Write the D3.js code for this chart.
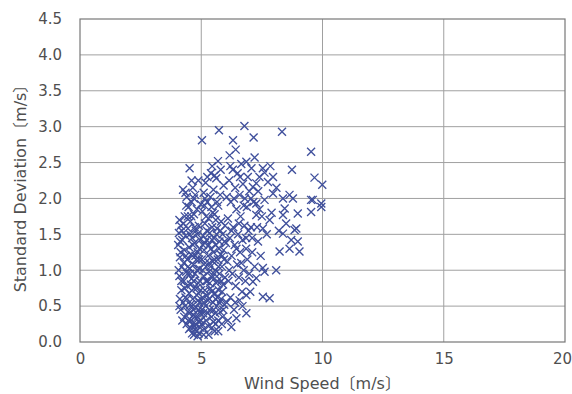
<!DOCTYPE html>
<html><head><meta charset="utf-8">
<script src="https://cdn.jsdelivr.net/npm/d3@7"></script>
<style>body{margin:0;background:#fff}</style>
</head><body><svg id="c" width="572" height="394"></svg>
<script>
const xTicks = [0, 5, 10, 15, 20];
const yTicks = [0, 0.5, 1, 1.5, 2, 2.5, 3, 3.5, 4, 4.5];
const xLabel = "Wind Speed〔m/s〕";
const yLabel = "Standard Deviation〔m/s〕";

// [wind speed, standard deviation]
const band4 = [[4.05,1.35],[4.08,1.52],[4.1,0.92],[4.12,1.18],[4.15,0.45],[4.15,1.62],[4.18,0.72],[4.2,1.05],[4.22,1.42],[4.25,0.55],[4.25,2.12],[4.28,0.85],[4.3,1.28],[4.3,0.35],[4.32,1.75],[4.35,0.62],[4.35,1.48],[4.38,0.98],[4.4,0.25],[4.4,2.02],[4.42,1.15],[4.42,0.78],[4.45,1.58],[4.45,0.42],[4.48,1.88],[4.5,0.18],[4.5,1.32],[4.5,0.68],[4.52,2.42],[4.52,1.02],[4.55,0.52],[4.55,1.68],[4.58,0.3],[4.58,1.22],[4.6,0.88],[4.6,1.95],[4.62,0.12],[4.62,1.45],[4.65,0.6],[4.65,2.15],[4.68,1.08],[4.68,0.38],[4.7,1.78],[4.7,0.75],[4.72,0.22],[4.72,1.38],[4.75,0.95],[4.75,2.05],[4.78,0.48],[4.78,1.55],[4.8,0.15],[4.8,1.15],[4.82,0.65],[4.82,1.85],[4.85,0.35],[4.85,1.25],[4.88,0.82],[4.88,2.25],[4.9,0.28],[4.9,1.62],[4.92,1.02],[4.92,0.55],[4.95,1.42],[4.95,0.2],[4.98,1.92],[4.98,0.72],[4.1,1.7],[4.12,0.6],[4.2,1.55],[4.28,1.1],[4.33,0.5],[4.38,1.9],[4.43,0.95],[4.47,0.3],[4.53,1.5],[4.57,0.8],[4.63,1.2],[4.67,0.45],[4.73,1.6],[4.77,0.25],[4.83,1.0],[4.87,0.58],[4.93,1.3],[4.97,0.4],[4.6,2.25],[4.35,2.08],[4.15,1.25],[4.85,0.08],[4.7,0.1],
  [4.07,1.0],[4.1,0.5],[4.13,1.4],[4.18,0.85],[4.22,0.3],[4.27,1.65],[4.32,0.75],[4.37,1.2],[4.41,0.6],[4.46,1.05],[4.51,0.4],[4.54,0.95],[4.59,1.75],[4.61,0.5],[4.66,1.35],[4.69,0.85],[4.74,0.35],[4.76,1.2],[4.81,0.75],[4.84,1.5],[4.89,0.45],[4.91,1.15],[4.94,0.85],[4.99,0.3],[4.55,0.2],[4.65,0.25],[4.75,0.18],[4.9,0.12],[4.45,1.75],[4.7,2.0]];
const band5 = [[5.02,0.25],[5.02,1.15],[5.05,0.62],[5.05,1.82],[5.08,0.4],[5.08,1.48],[5.1,0.92],[5.1,2.08],[5.12,0.18],[5.12,1.28],[5.15,0.72],[5.15,1.65],[5.18,0.5],[5.18,2.22],[5.2,1.05],[5.2,0.3],[5.22,1.42],[5.25,0.85],[5.25,1.95],[5.28,0.58],[5.28,1.2],[5.3,0.22],[5.3,1.72],[5.32,0.98],[5.35,0.45],[5.35,1.52],[5.38,2.02],[5.38,0.75],[5.4,1.3],[5.42,0.35],[5.42,1.88],[5.45,0.9],[5.45,1.6],[5.48,0.55],[5.48,1.12],[5.5,0.28],[5.5,2.12],[5.52,1.45],[5.55,0.68],[5.55,1.78],[5.58,1.0],[5.58,0.4],[5.6,1.35],[5.62,0.82],[5.62,2.28],[5.65,0.5],[5.65,1.58],[5.68,1.15],[5.7,0.3],[5.7,1.9],[5.72,0.72],[5.75,1.4],[5.75,0.95],[5.78,0.42],[5.78,2.05],[5.8,1.22],[5.82,0.6],[5.82,1.68],[5.85,1.05],[5.88,0.35],[5.88,1.5],[5.9,0.8],[5.92,2.18],[5.92,1.28],[5.95,0.52],[5.98,1.62],[5.98,0.9],[5.06,1.0],[5.14,1.9],[5.22,0.65],[5.33,1.1],[5.44,0.2],[5.53,0.95],[5.6,1.7],[5.67,0.62],[5.73,1.3],[5.86,0.7],[5.94,1.15],[5.25,2.3],[5.4,2.35],[5.15,1.38],[5.35,0.82],[5.5,1.25],[5.7,0.15],[5.55,0.15],[5.2,1.75],[5.45,1.42],[5.03,2.81],[5.69,2.52],[5.73,2.95],[5.45,2.45],[5.8,2.4],[5.55,2.32],
  [5.03,0.45],[5.07,1.35],[5.11,0.55],[5.16,1.1],[5.19,0.85],[5.23,1.55],[5.27,0.4],[5.31,1.35],[5.34,0.6],[5.39,1.05],[5.43,0.7],[5.47,1.8],[5.51,0.45],[5.54,1.15],[5.59,0.6],[5.63,1.5],[5.66,0.85],[5.71,1.05],[5.74,0.55],[5.79,1.55],[5.83,0.85],[5.87,1.2],[5.91,0.45],[5.96,1.4],[5.1,0.1],[5.3,0.1],[5.6,0.25],[5.85,0.25],[5.15,2.0],[5.65,1.95]];
const band6 = [[6.02,1.38],[6.05,0.55],[6.05,2.02],[6.08,1.12],[6.1,0.3],[6.1,1.72],[6.12,0.85],[6.15,2.25],[6.17,2.6],[6.18,1.45],[6.2,0.62],[6.22,1.95],[6.24,0.21],[6.25,1.2],[6.28,0.95],[6.3,2.4],[6.31,2.81],[6.32,1.6],[6.35,0.45],[6.38,1.35],[6.4,2.15],[6.42,2.68],[6.42,0.78],[6.45,0.33],[6.45,1.85],[6.48,1.08],[6.5,2.35],[6.52,1.5],[6.55,0.9],[6.58,0.58],[6.58,2.05],[6.6,1.25],[6.62,1.75],[6.65,2.48],[6.68,0.7],[6.7,1.42],[6.72,2.2],[6.75,1.0],[6.78,3.01],[6.78,1.62],[6.8,2.0],[6.82,0.85],[6.85,1.3],[6.86,0.4],[6.86,0.65],[6.86,2.51],[6.88,1.88],[6.9,1.15],[6.92,2.3],[6.95,1.55],[6.98,0.95],[6.98,2.1],[6.15,1.0],[6.25,1.55],[6.35,2.0],[6.45,1.3],[6.55,1.65],[6.65,1.1],[6.75,1.9],[6.85,1.45],[6.2,2.45],[6.6,2.3],[6.4,0.55],[6.7,0.5]];
const band7 = [[7.07,2.42],[7.13,2.16],[7.16,2.85],[7.2,2.57],[7.27,2.21],[7.54,2.42],[7.61,2.36],[7.96,2.3],[7.75,2.23],[7.27,1.93],[7.61,1.98],[7.27,1.77],[7.82,1.7],[7.54,1.58],[7.34,1.4],[7.54,1.03],[7.27,0.89],[7.54,0.63],[7.82,0.61],[7.13,0.84],[7.61,0.98],[7.05,1.6],[7.1,1.25],[7.15,1.95],[7.2,1.05],[7.4,1.85],[7.45,1.2],[7.05,2.0],[7.35,2.1],[7.5,1.75],[7.7,1.5],[7.9,1.8],[7.96,2.07],[7.1,1.45],[7.3,1.6],[7.02,0.7],[7.4,2.3],[7.85,2.45]];
const band8up = [[8.33,2.93],[8.74,2.4],[8.09,1.0],[8.64,2.05],[8.44,1.86],[8.37,1.77],[8.98,1.79],[8.37,1.51],[8.85,1.56],[8.71,1.42],[8.98,1.4],[8.23,1.26],[8.64,1.3],[9.05,1.26],[8.92,1.58],[8.78,2.0],[8.37,2.0],[9.53,2.65],[9.67,2.29],[9.99,2.19],[9.53,1.98],[9.95,1.93],[9.53,1.81],[9.95,1.88],[8.1,2.15],[8.5,1.65],[8.2,1.55],[9.6,1.98]];

const points = [].concat(band4, band5, band6, band7, band8up);

const svg = d3.select("#c");
const m = {l: 80, r: 565, t: 19, b: 342};
const x = d3.scaleLinear().domain([0, 20]).range([m.l, m.r]);
const y = d3.scaleLinear().domain([0, 4.5]).range([m.b, m.t]);
const font = "'DejaVu Sans', 'Noto Sans CJK JP', sans-serif";
const txt = "#4f4f4f";

// grid
svg.append("g").selectAll("line").data(yTicks.filter(d => d > 0 && d < 4.5)).join("line")
  .attr("x1", m.l).attr("x2", m.r).attr("y1", d => y(d)).attr("y2", d => y(d))
  .attr("stroke", "#a0a0a0").attr("stroke-width", 1);
svg.append("g").selectAll("line").data(xTicks.filter(d => d > 0 && d < 20)).join("line")
  .attr("y1", m.t).attr("y2", m.b).attr("x1", d => x(d)).attr("x2", d => x(d))
  .attr("stroke", "#a0a0a0").attr("stroke-width", 1);

// frame
svg.append("rect").attr("x", m.l).attr("y", m.t).attr("width", m.r - m.l).attr("height", m.b - m.t)
  .attr("fill", "none").attr("stroke", "#777").attr("stroke-width", 1.2);

// axes labels
const yAxis = d3.axisLeft(y).tickValues(yTicks).tickFormat(d3.format(".1f")).tickSize(0).tickPadding(18);
const gy = svg.append("g").attr("transform", `translate(${m.l},0)`).call(yAxis);
gy.select(".domain").remove();
gy.selectAll("text").attr("fill", txt).style("font-family", font).style("font-size", "15px");

const xAxis = d3.axisBottom(x).tickValues(xTicks).tickFormat(d3.format("d")).tickSize(0).tickPadding(11);
const gx = svg.append("g").attr("transform", `translate(0,${m.b})`).call(xAxis);
gx.select(".domain").remove();
gx.selectAll("text").attr("fill", txt).style("font-family", font).style("font-size", "15px")
  .attr("dx", d => d === 20 ? -3 : 0);

svg.append("text").attr("x", (m.l + m.r) / 2).attr("y", 389).attr("text-anchor", "middle")
  .attr("fill", txt).style("font-family", font).style("font-size", "16px").text(xLabel);
svg.append("text").attr("transform", `translate(26,${(m.t + m.b) / 2 + 4}) rotate(-90)`).attr("text-anchor", "middle")
  .attr("fill", txt).style("font-family", font).style("font-size", "16px").text(yLabel);

// markers
const s = 4;
svg.append("g").selectAll("path").data(points).join("path")
  .attr("d", d => {
    const cx = x(d[0]), cy = y(d[1]);
    return `M${cx - s},${cy - s}L${cx + s},${cy + s}M${cx - s},${cy + s}L${cx + s},${cy - s}`;
  })
  .attr("stroke", "#3f4f9c").attr("stroke-width", 1.35).attr("fill", "none");
</script></body></html>
